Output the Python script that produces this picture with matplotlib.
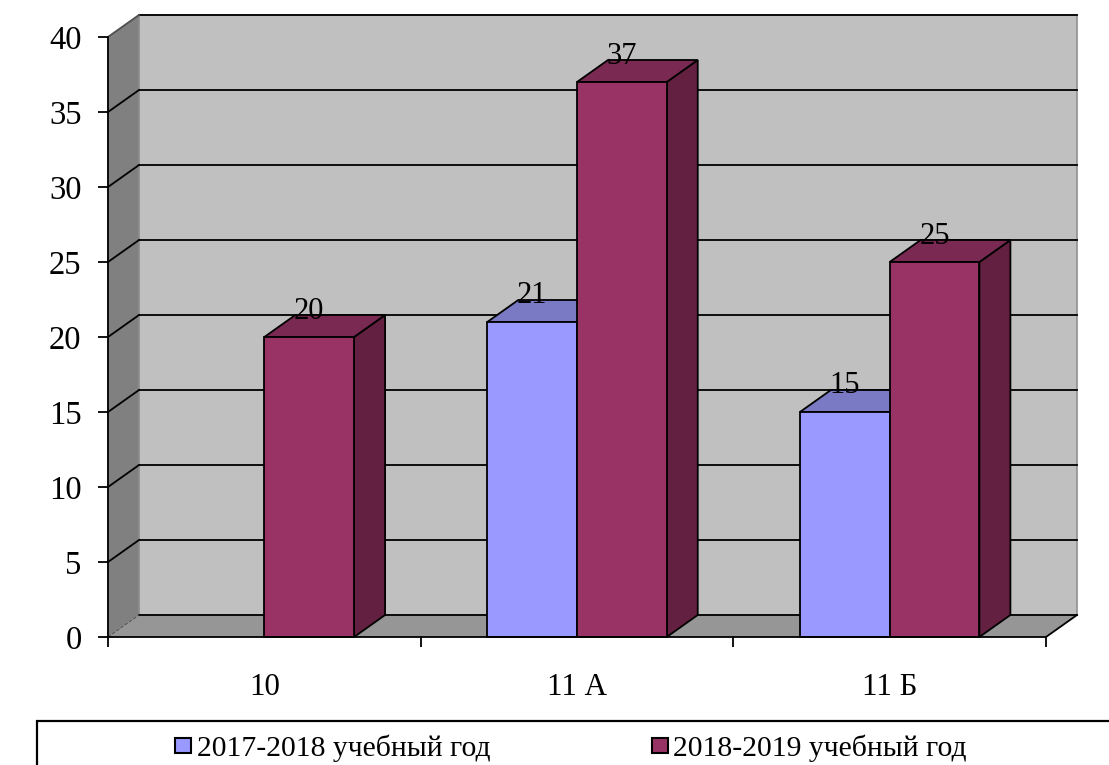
#!/usr/bin/env python3
import matplotlib
matplotlib.use('Agg')
import matplotlib.pyplot as plt
from matplotlib.patches import Polygon, Rectangle
from matplotlib.transforms import ScaledTranslation

plt.rcParams['font.family'] = ['Liberation Serif', 'DejaVu Serif']

# данные
categories = ['10', '11 А', '11 Б']
series_1_name = '2017-2018 учебный год'
series_2_name = '2018-2019 учебный год'
series_1 = [None, 21, 15]
series_2 = [20, 37, 25]
y_ticks = [0, 5, 10, 15, 20, 25, 30, 35, 40]

# цвета
COL_1 = ('#9999ff', '#7a7ac4', '#4d4d80')
COL_2 = ('#993366', '#7a2952', '#632040')
WALL_BACK = '#c0c0c0'
WALL_LEFT = '#808080'
FLOOR = '#969696'

W, H = 1109, 765
LEFT, RIGHT, BOTTOM, TOP = 108, 1046, 637, 37
DEPTH_X_PX, DEPTH_Y_PX = 31, 22
BAR_W = 0.287
LW = 1.3

fig = plt.figure(figsize=(W / 100, H / 100), dpi=100, facecolor='white')
ax = fig.add_axes([LEFT / W, 1 - BOTTOM / H, (RIGHT - LEFT) / W, (BOTTOM - TOP) / H])
ax.set_xlim(0, len(categories))
ax.set_ylim(0, 40)
ax.patch.set_visible(False)

# глубина псевдо-3D в единицах данных
dx = DEPTH_X_PX / (RIGHT - LEFT) * len(categories)
dy = DEPTH_Y_PX / (BOTTOM - TOP) * 40
n = len(categories)


def poly(pts, fc, ec='none', lw=1.0, z=1):
    ax.add_patch(Polygon(pts, closed=True, facecolor=fc, edgecolor=ec, linewidth=lw,
                         zorder=z, clip_on=False, joinstyle='miter'))


def draw_bar(x0, val, cols, z):
    x1 = x0 + BAR_W
    poly([(x1, 0), (x1 + dx, dy), (x1 + dx, val + dy), (x1, val)], cols[2], 'black', LW, z)
    poly([(x0, val), (x0 + dx, val + dy), (x1 + dx, val + dy), (x1, val)], cols[1], 'black', LW, z)
    poly([(x0, 0), (x1, 0), (x1, val), (x0, val)], cols[0], 'black', LW, z)


# стенки и пол
poly([(dx, dy), (n + dx, dy), (n + dx, 40 + dy), (dx, 40 + dy)], WALL_BACK, '#909090', 1.2, 1)
poly([(0, 0), (dx, dy), (dx, 40 + dy), (0, 40)], WALL_LEFT, '#909090', 1.0, 1)
poly([(0, 0), (n, 0), (n + dx, dy), (dx, dy)], FLOOR, 'none', 1.0, 1)

# сетка
for t in y_ticks:
    ax.plot([dx, n + dx], [t + dy, t + dy], color='black', lw=LW, zorder=2, clip_on=False)
    ax.plot([0, dx], [t, t + dy], color='black' if 0 < t < 40 else '#505050', lw=LW if t else 0.7,
            ls='-' if t else '--', zorder=2, clip_on=False)
ax.plot([n, n + dx], [0, dy], color='black', lw=LW, zorder=2, clip_on=False)

# столбцы
for i in range(n):
    center = i + 0.5
    if series_1[i] is not None:
        draw_bar(center - BAR_W, series_1[i], COL_1, 3 + i)
    draw_bar(center, series_2[i], COL_2, 3.5 + i)

# подписи значений
for i in range(n):
    center = i + 0.5
    if series_1[i] is not None:
        ax.annotate(str(series_1[i]), (center - BAR_W / 2, series_1[i]), xytext=(0, 8.5),
                    textcoords='offset points', ha='center', va='bottom', fontsize=22,
                    zorder=10, annotation_clip=False)
    ax.annotate(str(series_2[i]), (center + BAR_W / 2, series_2[i]), xytext=(0, 8),
                textcoords='offset points', ha='center', va='bottom', fontsize=22,
                zorder=10, annotation_clip=False)

# оси
for name in ['top', 'right']:
    ax.spines[name].set_visible(False)
for name in ['left', 'bottom']:
    ax.spines[name].set_linewidth(LW)
    ax.spines[name].set_zorder(20)
ax.set_yticks(y_ticks)
ax.set_xticks(range(n + 1))
ax.set_xticklabels([])
ax.set_xticks([i + 0.5 for i in range(n)], minor=True)
ax.set_xticklabels(categories, minor=True)
ax.tick_params(axis='x', which='major', direction='out', length=7, width=LW, pad=10)
ax.tick_params(axis='x', which='minor', length=0, pad=26, labelsize=22.3)
ax.tick_params(axis='y', direction='out', length=7, width=LW, pad=12, labelsize=23.5)
shift = ScaledTranslation(0, -0.5 / 72, fig.dpi_scale_trans)
for lab in ax.get_yticklabels():
    lab.set_transform(lab.get_transform() + shift)

# легенда
fig.add_artist(Rectangle((37 / W, -0.05), 1.1, 1 - 721 / H + 0.05, transform=fig.transFigure,
                         facecolor='white', edgecolor='black', linewidth=1.6))
for sx, tx, col, label in [(175, 197, COL_1[0], series_1_name), (652, 673, COL_2[0], series_2_name)]:
    fig.add_artist(Rectangle((sx / W, 1 - 753 / H), 16 / W, 15 / H, transform=fig.transFigure,
                             facecolor=col, edgecolor='black', linewidth=1.5))
    fig.text(tx / W, 1 - 756 / H, label, fontsize=21.3, ha='left', va='baseline')

fig.savefig('out.png', dpi=100, facecolor='white')
